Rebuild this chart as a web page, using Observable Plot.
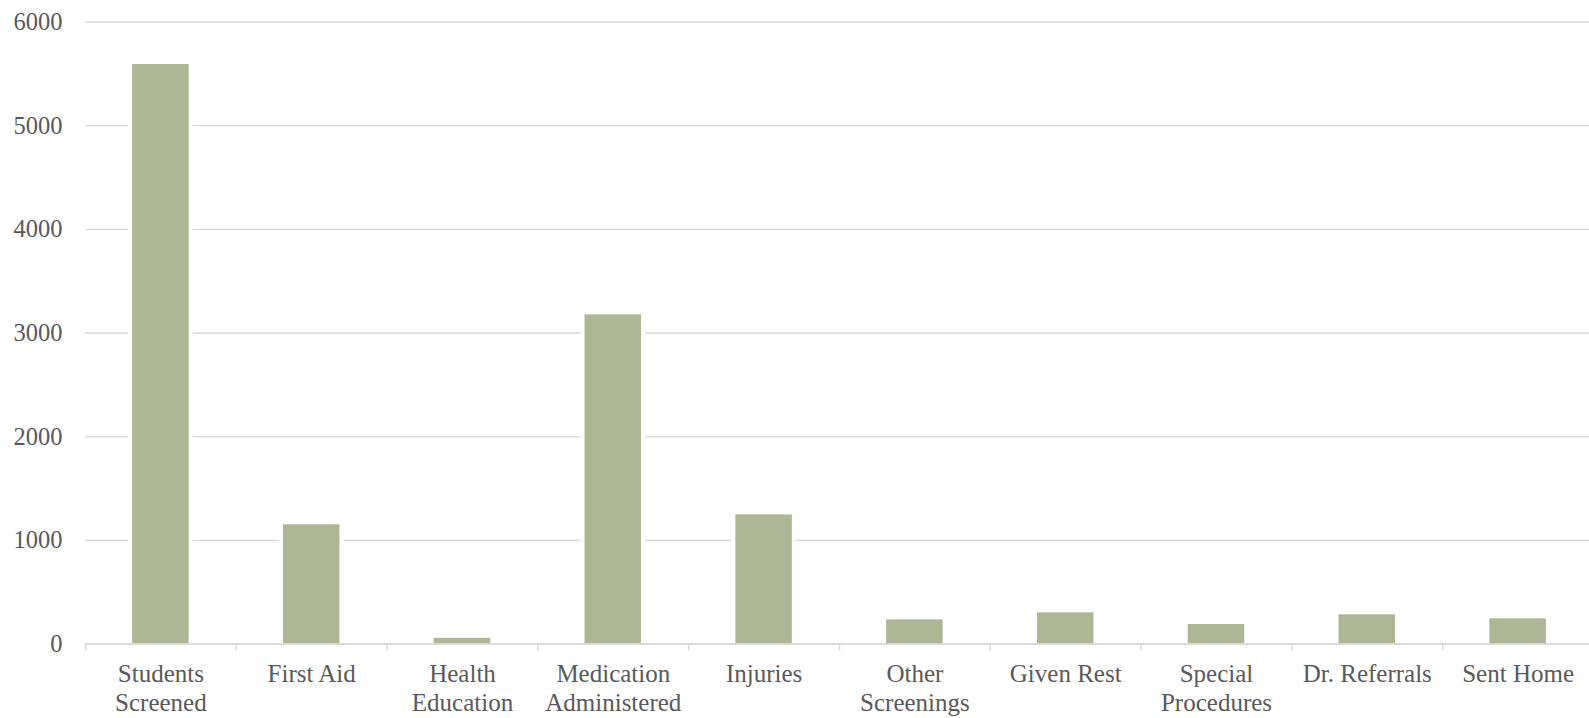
<!DOCTYPE html>
<html>
<head>
<meta charset="utf-8">
<script src="https://cdn.jsdelivr.net/npm/d3@7"></script>
<script src="https://cdn.jsdelivr.net/npm/@observablehq/plot@0.6"></script>
<style>
  html, body { margin: 0; padding: 0; background: #ffffff; }
  #chart svg { display: block; background: linear-gradient(to right, #fafaf2 0 7px, #ffffff 7px); }
</style>
</head>
<body>
<div id="chart"></div>
<script>
// Health office activity totals by category
const categories = [
  "Students Screened", "First Aid", "Health Education", "Medication Administered",
  "Injuries", "Other Screenings", "Given Rest", "Special Procedures",
  "Dr. Referrals", "Sent Home"
];
const counts = [5590, 1150, 55, 3175, 1245, 233, 301, 188, 282, 243];
const tickLabels = [
  "Students\nScreened", "First Aid", "Health\nEducation", "Medication\nAdministered",
  "Injuries", "Other\nScreenings", "Given Rest", "Special\nProcedures",
  "Dr. Referrals", "Sent Home"
];
const yTicks = [0, 1000, 2000, 3000, 4000, 5000, 6000];

const rows = categories.map((c, i) => ({category: c, count: counts[i], label: tickLabels[i]}));

const barColor = "#adb795";
const lineColor = "#d9d9d9";
const textColor = "#595959";
const step = (1593 - 85) / categories.length;
const barInset = (step - 56.5) / 2;

const chart = Plot.plot({
  width: 1589,
  height: 718,
  marginLeft: 85,
  marginRight: 0,
  marginTop: 21.5,
  marginBottom: 74.5,
  style: {fontFamily: "'Liberation Serif', serif", fontSize: "24px", color: textColor, background: "transparent"},
  x: {type: "band", domain: categories, range: [85, 1593], padding: 0, round: false},
  y: {domain: [0, 6000]},
  marks: [
    Plot.gridY(yTicks, {stroke: lineColor, strokeOpacity: 1, strokeWidth: 1.4}),
    // white halo that breaks the gridlines around each bar
    Plot.barY(rows, {x: "category", y: "count", fill: "#ffffff",
      insetLeft: barInset - 4, insetRight: barInset - 4, insetTop: -4}),
    Plot.barY(rows, {x: "category", y: "count", fill: barColor,
      insetLeft: barInset, insetRight: barInset}),
    Plot.ruleY([0], {stroke: lineColor, strokeWidth: 2}),
    // tick marks at the category boundaries
    Plot.axisX({tickSize: 7, text: null, stroke: lineColor, strokeWidth: 1.5, dx: -step / 2, label: null}),
    Plot.text(rows, {x: "category", text: "label", frameAnchor: "bottom", lineAnchor: "top",
      dy: 18, lineHeight: 1.14, fontSize: 25, fill: textColor, ariaLabel: "category label"}),
    Plot.axisY({ticks: yTicks, tickSize: 0, tickPadding: 23, tickFormat: d => String(d),
      fontSize: 24.5, fill: textColor, label: null})
  ]
});

document.getElementById("chart").append(chart);
d3.select(chart).selectAll('g[aria-label="category label"] text').style("letter-spacing", "1px");
</script>
</body>
</html>
